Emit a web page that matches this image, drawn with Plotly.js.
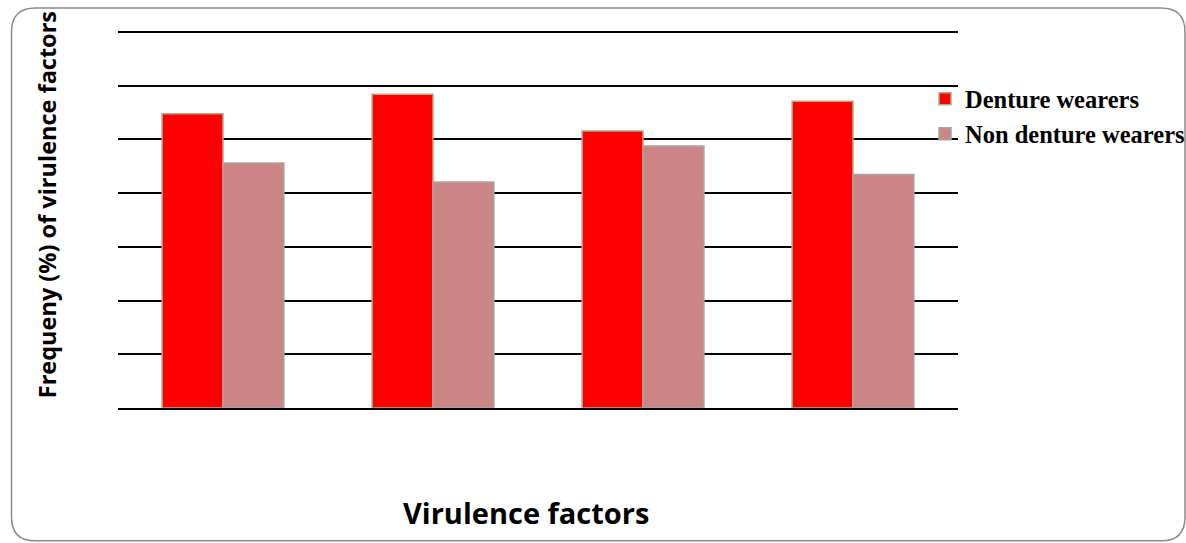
<!DOCTYPE html>
<html>
<head>
<meta charset="utf-8">
<script src="https://cdn.plot.ly/plotly-3.0.1.min.js"></script>
<style>html,body{margin:0;padding:0;background:#fff;}#chart{width:1186px;height:543px;}</style>
</head>
<body>
<div id="chart"></div>
<script>
// Data (% frequency; no category labels shown in the original)
const categories = ["Factor 1", "Factor 2", "Factor 3", "Factor 4"];
const dentureWearers = [54.8, 58.4, 51.6, 57.1];
const nonDentureWearers = [45.6, 42.1, 48.8, 43.5];
const seriesNames = ["Denture wearers", "Non denture wearers"];
const yTitle = "Frequeny (%) of virulence factors";
const xTitle = "Virulence factors";

// pixel -> paper helpers for decoration placement
const L = 118, R = 958, T = 30.6, B = 408, W = 1186, H = 543;
const px = x => (x - L) / (R - L);
const py = y => (B - y) / (B - T);

function roundedRect(x0, y0, x1, y1, r) {
  const P = (x, y) => px(x) + "," + py(y);
  return "M" + P(x0 + r, y0) + " L" + P(x1 - r, y0) +
    " Q" + P(x1, y0) + " " + P(x1, y0 + r) +
    " L" + P(x1, y1 - r) + " Q" + P(x1, y1) + " " + P(x1 - r, y1) +
    " L" + P(x0 + r, y1) + " Q" + P(x0, y1) + " " + P(x0, y1 - r) +
    " L" + P(x0, y0 + r) + " Q" + P(x0, y0) + " " + P(x0 + r, y0) + " Z";
}

const traces = [
  {
    type: "bar", name: seriesNames[0], x: categories, y: dentureWearers,
    marker: {color: "#ff0000", line: {color: "#b3a889", width: 1.5}},
    hoverinfo: "y+name"
  },
  {
    type: "bar", name: seriesNames[1], x: categories, y: nonDentureWearers,
    marker: {color: "#cc8585", line: {color: "#a9a4a4", width: 1.5}},
    hoverinfo: "y+name"
  }
];

const layout = {
  width: W, height: H,
  margin: {l: L, r: W - R, t: T, b: H - B, autoexpand: false},
  paper_bgcolor: "#ffffff", plot_bgcolor: "#ffffff",
  barmode: "group", bargap: 0.42, bargroupgap: 0,
  showlegend: true,
  legend: {
    x: px(925), xanchor: "left", y: py(76), yanchor: "top",
    font: {family: "Liberation Serif, Times New Roman, serif", size: 24.5, color: "#000", weight: "bold"},
    bgcolor: "rgba(0,0,0,0)", borderwidth: 0, tracegroupgap: 0
  },
  xaxis: {
    showticklabels: false, ticks: "", showgrid: false, zeroline: false,
    showline: true, linecolor: "#000", linewidth: 2
  },
  yaxis: {
    range: [0, 70.2], tick0: 0, dtick: 10, showticklabels: false, ticks: "",
    showgrid: true, gridcolor: "#000", gridwidth: 2, zeroline: false, showline: false
  },
  annotations: [
    {
      text: "<b>" + yTitle + "</b>", textangle: -90, showarrow: false,
      xref: "paper", yref: "paper", x: px(47), y: py(205), xanchor: "center", yanchor: "middle",
      font: {family: "Open Sans, sans-serif", size: 23.5, color: "#000"}
    },
    {
      text: "<b>" + xTitle + "</b>", showarrow: false,
      xref: "paper", yref: "paper", x: px(525.5), y: py(513), xanchor: "center", yanchor: "middle",
      font: {family: "Open Sans, sans-serif", size: 29, color: "#000"}
    }
  ],
  shapes: [
    {type: "path", xref: "paper", yref: "paper", path: roundedRect(11.5, 7.5, 1185, 541, 24),
     line: {color: "#8a8a8a", width: 1.5}, fillcolor: "rgba(0,0,0,0)", layer: "below"}
  ]
};

Plotly.newPlot("chart", traces, layout, {displayModeBar: false, staticPlot: true});
</script>
</body>
</html>
